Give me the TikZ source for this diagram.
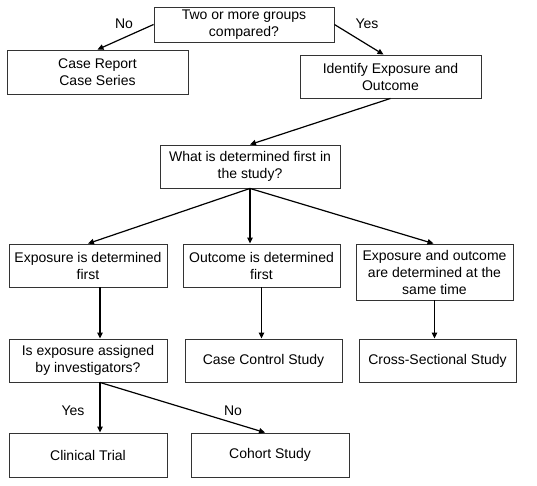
\documentclass[tikz,border=0pt]{standalone}
\usepackage{fontspec}
\setmainfont{Liberation Sans}
\usetikzlibrary{arrows.meta,calc}
\begin{document}
\begin{tikzpicture}[x=1pt,y=-1pt,
  box/.style={draw=black!80,line width=0.9pt,rectangle,inner sep=0pt,align=center,
    font=\fontsize{14pt}{17pt}\selectfont},
  arr/.style={draw=black,line width=1.2pt,-{Triangle[length=6pt,width=5.5pt]}},
  lbl/.style={font=\fontsize{14pt}{17pt}\selectfont,inner sep=0pt}]
\useasboundingbox (0,0) rectangle (537,485);
\node[box,minimum width=180pt,minimum height=35pt] (top) at (244,24.5) {Two or more groups\\compared?};
\node[box,minimum width=181pt,minimum height=44pt] (case) at (97.5,72) {Case Report\\Case Series};
\node[box,minimum width=181pt,minimum height=43pt] (ident) at (390.5,76.5) {Identify Exposure and\\Outcome};
\node[box,minimum width=180pt,minimum height=43pt] (what) at (250,166.5) {What is determined first in\\the study?};
\node[box,minimum width=158pt,minimum height=43pt] (expf) at (88,265.5) {Exposure is determined\\first};
\node[box,minimum width=157pt,minimum height=43pt] (outf) at (261.5,265.5) {Outcome is determined\\first};
\node[box,minimum width=157pt,minimum height=56pt] (both) at (434.5,272) {Exposure and outcome\\are determined at the\\same time};
\node[box,minimum width=158pt,minimum height=43pt] (isexp) at (88,360.5) {Is exposure assigned\\by investigators?};
\node[box,minimum width=157pt,minimum height=43pt] (cc) at (263.5,360.5) {Case Control Study};
\node[box,minimum width=157pt,minimum height=43pt] (cs) at (437.5,360.5) {Cross-Sectional Study};
\node[box,minimum width=158pt,minimum height=44pt] (ct) at (88,455) {Clinical Trial};
\node[box,minimum width=158pt,minimum height=44pt] (coh) at (270,455) {Cohort Study};

\draw[arr] (top.west) -- (case.north);
\draw[arr] (top.east) -- ([xshift=-7pt]ident.north);
\draw[arr] (ident.south) -- (what.north);
\draw[arr] (what.south) -- (expf.north);
\draw[arr] (what.south) -- (what.south |- outf.north);
\draw[arr] (what.south) -- ([xshift=-1pt]both.north);
\draw[arr] ([xshift=12pt]expf.south) -- ([xshift=12pt]isexp.north);
\draw[arr] (outf.south) -- (outf.south |- cc.north);
\draw[arr] (both.south) -- (both.south |- cs.north);
\draw[arr] ([xshift=12pt]isexp.south) -- ([xshift=12pt]ct.north);
\draw[arr] ([xshift=12pt]isexp.south) -- ([xshift=-5pt]coh.north);

\node[lbl] (no1) at (124,24) {No};
\node[lbl] (yes1) at (367,24) {Yes};
\node[lbl] (yes2) at (73,411) {Yes};
\node[lbl] (no2) at (233,411) {No};
\end{tikzpicture}
\end{document}
